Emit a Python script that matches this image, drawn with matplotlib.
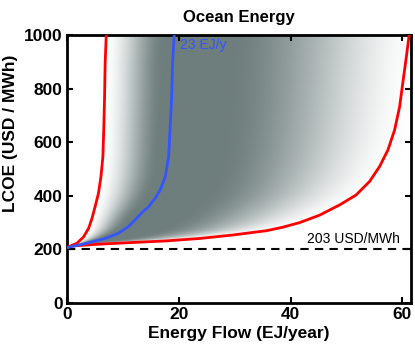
import numpy as np
import matplotlib.pyplot as plt
from matplotlib.colors import LinearSegmentedColormap

plt.rcParams['font.family'] = ['Liberation Sans', 'DejaVu Sans']

# curves (energy flow EJ/yr vs LCOE USD/MWh)
low_x = [0, 0.3, 1.8, 3.0, 3.9, 4.5, 5.05, 5.65, 6.1, 6.45, 6.6, 6.75, 6.85, 7.05]
low_y = [207, 210, 223, 247, 279, 316, 359, 409, 471, 546, 646, 770, 894, 1000]

med_x = [0, 0.3, 3.9, 6.85, 9.2, 11.0, 12.2, 13.4, 14.6, 15.8, 16.7, 17.6, 18.2,
         18.45, 18.75, 18.9, 19.2]
med_y = [207, 208, 225, 241, 260, 285, 310, 337, 359, 391, 422, 471, 546,
         646, 770, 894, 1000]

high_x = [0, 1.0, 5.9, 11.8, 17.8, 23.75, 29.7, 35.7, 38.6, 41.6, 45.2, 48.75,
          51.7, 54.1, 55.9, 57.4, 58.6, 59.5, 60.05, 60.7, 61.2]
high_y = [207, 213, 220, 226, 232, 241, 254, 270, 283, 300, 328, 366,
          403, 453, 509, 571, 646, 733, 820, 919, 1000]

floor_cost = 203
median_label = '23 EJ/y'
floor_label = '203 USD/MWh'

x_max = 61.5

# shading built from the quantile curves (5% / median / 95%)
gx = np.linspace(0, x_max, 500)
gy = np.linspace(0, 1000, 400)
dens = np.zeros((len(gy), len(gx)))
for i, yv in enumerate(gy):
    if yv < low_y[0]:
        continue
    xl = np.interp(yv, low_y, low_x)
    xm = max(np.interp(yv, med_y, med_x), xl + 1e-3)
    xr = max(np.interp(yv, high_y, high_x), xm + 1e-3)
    q = np.interp(gx, [-1e-3, xl, xm, xr, xr + 8], [0, 0.05, 0.5, 0.95, 1.0])
    tl = np.clip((q - 0.04) / 0.4, 0, 1)
    tr = np.clip((q - 0.6) / 0.38, 0, 1)
    d = np.where(q < 0.5, 3 * tl**2 - 2 * tl**3, 1 - (3 * tr**2 - 2 * tr**3))
    dens[i] = d

cmap = LinearSegmentedColormap.from_list('gr', ['#ffffff', '#6e7e7d'])

fig = plt.figure(figsize=(4.15, 3.46), dpi=100)
ax = fig.add_axes([0.161, 0.124, 0.829, 0.775])

ax.imshow(dens, extent=[0, x_max, 0, 1000], origin='lower', aspect='auto',
          cmap=cmap, vmin=0, vmax=1, interpolation='bilinear', zorder=0)

ax.plot(low_x, low_y, color='#ff0000', lw=2, zorder=3)
ax.plot(high_x, high_y, color='#ff0000', lw=2, zorder=3)
ax.plot(med_x, med_y, color='#3355ff', lw=2, zorder=3)
ax.axhline(floor_cost, color='black', lw=1.5, ls=(0, (4, 3)), zorder=2)

ax.text(59.5, 240, floor_label, ha='right', va='center', fontsize=10)
ax.text(20.3, 963, median_label, ha='left', va='center', fontsize=10, color='#3355ff')

ax.set_xlim(0, x_max)
ax.set_ylim(0, 1000)
ax.set_xticks([0, 20, 40, 60])
ax.set_yticks([0, 200, 400, 600, 800, 1000])
ax.tick_params(direction='in', top=True, right=True, length=4, width=1.5,
               labelsize=12.5, pad=3)
for lab in ax.get_xticklabels() + ax.get_yticklabels():
    lab.set_fontweight('bold')
for s in ax.spines.values():
    s.set_linewidth(2)

ax.set_title('Ocean Energy', fontsize=12, fontweight='bold', pad=9)
ax.set_xlabel('Energy Flow (EJ/year)', fontsize=12.5, fontweight='bold', labelpad=3)
ax.set_ylabel('LCOE (USD / MWh)', fontsize=12.5, fontweight='bold')
ax.yaxis.set_label_coords(-0.142, 0.634)

fig.savefig('out.png', dpi=100)
